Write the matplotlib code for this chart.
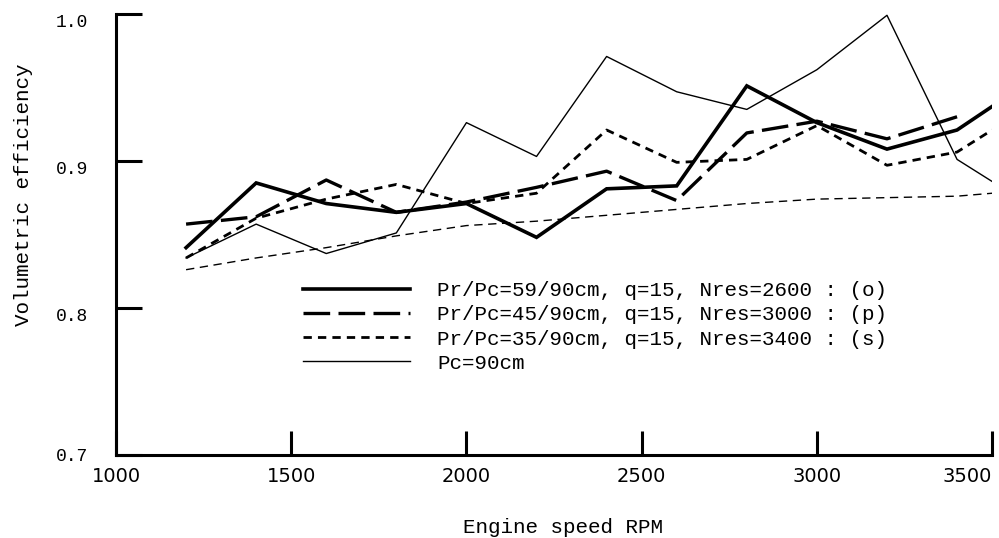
import matplotlib.pyplot as plt
import matplotlib.transforms as mtransforms
import numpy as np

# engine speed (RPM)
rpm = [1200, 1400, 1600, 1800, 2000, 2200, 2400, 2600, 2800, 3000, 3200, 3400, 3500]
rpm_p = rpm[:-1]

# volumetric efficiency
ve_o = [0.841, 0.885, 0.871, 0.865, 0.871, 0.848, 0.881, 0.883, 0.951, 0.926, 0.908, 0.921, 0.937]
ve_p = [0.857, 0.862, 0.887, 0.865, 0.872, 0.882, 0.893, 0.873, 0.919, 0.927, 0.915, 0.930]
ve_s = [0.834, 0.861, 0.874, 0.884, 0.871, 0.878, 0.921, 0.899, 0.901, 0.924, 0.897, 0.906, 0.921]
ve_pc = [0.834, 0.857, 0.837, 0.851, 0.926, 0.903, 0.971, 0.947, 0.935, 0.962, 0.999, 0.901, 0.886]
ve_ref = [0.826, 0.834, 0.841, 0.849, 0.856, 0.859, 0.863, 0.867, 0.871, 0.874, 0.875, 0.876, 0.878]

labels = ["Pr/Pc=59/90cm, q=15, Nres=2600 : (o)",
          "Pr/Pc=45/90cm, q=15, Nres=3000 : (p)",
          "Pr/Pc=35/90cm, q=15, Nres=3400 : (s)",
          "Pc=90cm"]
xticks = [1000, 1500, 2000, 2500, 3000, 3500]
yticks = [0.7, 0.8, 0.9, 1.0]

mono = ['Liberation Mono', 'DejaVu Sans Mono']
narrow = ['Liberation Sans Narrow', 'DejaVu Sans']

fig = plt.figure(figsize=(9.99, 5.38), dpi=100)
ax = fig.add_axes([0.1161, 0.1543, 0.877, 0.82])

l_o, = ax.plot(rpm, ve_o, color='black', lw=2.6, solid_joinstyle='miter')
l_p, = ax.plot(rpm_p, ve_p, color='black', lw=2.4, dashes=(8, 2.5))
l_s, = ax.plot(rpm, ve_s, color='black', lw=2.0, dashes=(3, 2.2))
l_pc, = ax.plot(rpm, ve_pc, color='black', lw=1.0)
ax.plot(rpm, ve_ref, color='black', lw=1.0, dashes=(6, 4))

ax.set_xlim(1000, 3500)
ax.set_ylim(0.7, 1.0)

for s in ['top', 'right']:
    ax.spines[s].set_visible(False)
for s in ['left', 'bottom']:
    ax.spines[s].set_linewidth(2.2)

ax.set_xticks(xticks)
ax.set_xticklabels([str(v) for v in xticks], family=narrow, fontsize=14)
ax.get_xticklabels()[-1].set_ha('right')
ax.set_yticks(yticks)
ax.set_yticklabels(["{:.1f}".format(v) for v in yticks], family=mono, fontsize=13)
ax.tick_params(axis='x', direction='in', length=17, width=2.2, pad=9)
ax.tick_params(axis='y', direction='in', length=19, width=2.2, pad=20)

# y labels sit a bit below their ticks in the original
off = mtransforms.ScaledTranslation(0, -7 / 100, fig.dpi_scale_trans)
for lab in ax.get_yticklabels()[1:]:
    lab.set_transform(lab.get_transform() + off)

ax.set_xlabel('Engine speed RPM', family=mono, fontsize=15)
ax.xaxis.set_label_coords(0.51, -0.142)
ax.set_ylabel('Volumetric efficiency', family=mono, fontsize=15)
ax.yaxis.set_label_coords(-0.095, 0.59)

ax.legend([l_o, l_p, l_s, l_pc], labels, loc='upper left', bbox_to_anchor=(0.204, 0.413),
          frameon=False, prop={'family': mono, 'size': 15}, handlelength=5.15,
          handletextpad=1.3, labelspacing=0.25, borderaxespad=0)

plt.savefig('out.png', dpi=100)
